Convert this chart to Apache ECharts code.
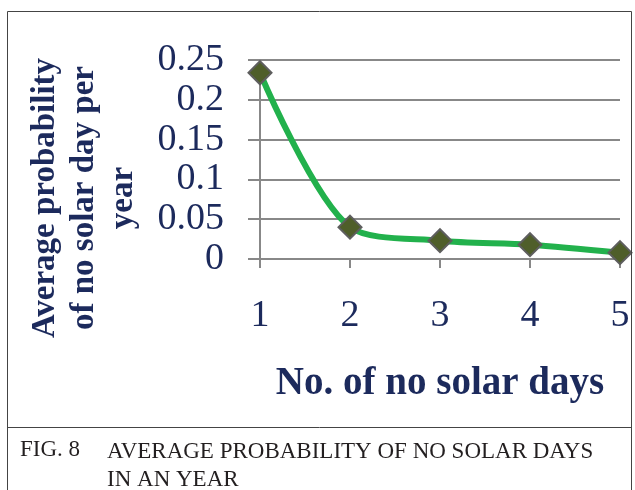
<!DOCTYPE html>
<html><head><meta charset="utf-8">
<script src="https://cdn.jsdelivr.net/npm/echarts@6/dist/echarts.min.js"></script>
<style>html,body{margin:0;padding:0;background:#fff}#c{width:635px;height:490px}</style>
</head><body><div id="c"></div>
<script>
var categories = ['1', '2', '3', '4', '5'];
var probValues = [0.234, 0.040, 0.023, 0.018, 0.008];
var yTicks = [0, 0.05, 0.1, 0.15, 0.2, 0.25];

var chart = echarts.init(document.getElementById('c'), null, {renderer: 'canvas'});
var serif = '"Liberation Serif", "DejaVu Serif", serif';
var navy = '#1c2a5c';
chart.setOption({
  animation: false,
  grid: {left: 260, right: 15, top: 60, bottom: 231},
  xAxis: {
    type: 'category', data: categories, boundaryGap: false,
    name: 'No. of no solar days', nameLocation: 'middle', nameGap: 105,
    nameTextStyle: {fontFamily: serif, fontSize: 39, fontWeight: 'bold', color: navy},
    axisLine: {show: false},
    axisTick: {show: true, length: 9, lineStyle: {color: '#888', width: 2}},
    axisLabel: {fontFamily: serif, fontSize: 38, color: navy, margin: 38},
    splitLine: {show: false}
  },
  yAxis: {
    type: 'value', min: yTicks[0], max: yTicks[yTicks.length - 1], interval: 0.05,
    axisLine: {show: true, lineStyle: {color: '#888', width: 2}},
    axisTick: {show: true, length: 12, lineStyle: {color: '#888', width: 2}},
    axisLabel: {fontFamily: serif, fontSize: 38, color: navy, margin: 36,
      formatter: function (v) { return String(v); }},
    splitLine: {show: true, lineStyle: {color: '#888', width: 2}}
  },
  series: [{
    type: 'line', data: probValues, smooth: 0.3,
    lineStyle: {color: '#22b14c', width: 6},
    symbol: 'diamond', symbolSize: 23,
    itemStyle: {color: '#4f5e2a', borderColor: '#5e5e5e', borderWidth: 2}
  }],
  graphic: [
    {type: 'text', x: 84, y: 198, rotation: Math.PI / 2,
      style: {text: 'Average probability\nof no solar day per\nyear', font: 'bold 33px "Liberation Serif"',
        fill: navy, align: 'center', verticalAlign: 'middle', lineHeight: 39}},
    {type: 'rect', shape: {x: 7.5, y: 11.5, width: 624, height: 500}, style: {fill: 'none', stroke: '#444', lineWidth: 1}, z: 100},
    {type: 'line', shape: {x1: 7, y1: 427.5, x2: 632, y2: 427.5}, style: {stroke: '#444', lineWidth: 1}, z: 100},
    {type: 'text', left: 20, top: 438, style: {text: 'FIG. 8', font: '23px "Liberation Serif"', fill: '#231f20'}},
    {type: 'text', left: 107, top: 438, style: {text: 'AVERAGE PROBABILITY OF NO SOLAR DAYS\nIN AN YEAR', font: '23px "Liberation Serif"', fill: '#231f20', lineHeight: 28}}
  ]
});
</script></body></html>
